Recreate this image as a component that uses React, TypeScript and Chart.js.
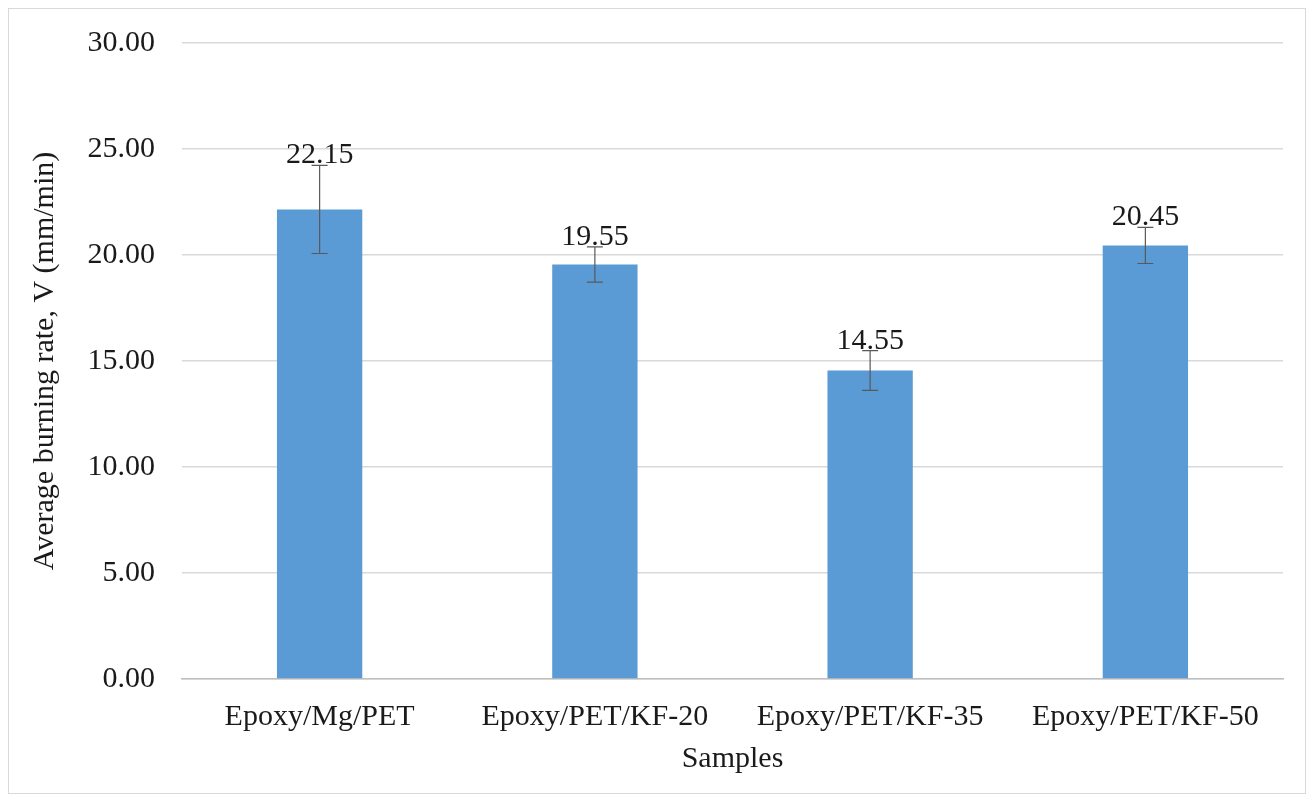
import React, { useEffect, useRef } from "react";
import { Chart, registerables } from "chart.js";

Chart.register(...registerables);

const categories = ["Epoxy/Mg/PET", "Epoxy/PET/KF-20", "Epoxy/PET/KF-35", "Epoxy/PET/KF-50"];
const values = [22.15, 19.55, 14.55, 20.45];
const errors = [2.08, 0.83, 0.94, 0.85];
const yTicks = [0, 5, 10, 15, 20, 25, 30];

const FONT = "'Liberation Serif', 'Times New Roman', serif";

const errorBarPlugin = {
  id: "errorBars",
  afterDatasetsDraw(chart: any) {
    const ctx = chart.ctx;
    const meta = chart.getDatasetMeta(0);
    const y = chart.scales.y;
    ctx.save();
    meta.data.forEach((bar: any, i: number) => {
      const x = bar.x;
      const top = y.getPixelForValue(values[i] + errors[i]);
      const bot = y.getPixelForValue(values[i] - errors[i]);
      ctx.strokeStyle = "#595959";
      ctx.lineWidth = 1.2;
      ctx.beginPath();
      ctx.moveTo(x, top);
      ctx.lineTo(x, bot);
      ctx.moveTo(x - 8, top);
      ctx.lineTo(x + 8, top);
      ctx.moveTo(x - 8, bot);
      ctx.lineTo(x + 8, bot);
      ctx.stroke();
      ctx.fillStyle = "#1a1a1a";
      ctx.font = `30px ${FONT}`;
      ctx.textAlign = "center";
      ctx.textBaseline = "alphabetic";
      ctx.fillText(values[i].toFixed(2), x, top - 2);
    });
    ctx.restore();
  },
};

export default function App() {
  const ref = useRef<HTMLCanvasElement>(null);
  useEffect(() => {
    if (!ref.current) return;
    const chart = new Chart(ref.current, {
      type: "bar",
      data: {
        labels: categories,
        datasets: [
          {
            data: values,
            backgroundColor: "#5b9bd5",
            categoryPercentage: 1,
            barPercentage: 0.31,
          },
        ],
      },
      plugins: [errorBarPlugin],
      options: {
        responsive: false,
        animation: false,
        layout: { padding: { left: 0, right: 22, top: 34, bottom: 0 } },
        plugins: { legend: { display: false }, tooltip: { enabled: false } },
        scales: {
          x: {
            grid: { display: false, drawTicks: false },
            border: { display: true, color: "#bfbfbf", width: 1.5 },
            ticks: { color: "#1a1a1a", font: { family: FONT, size: 30 }, padding: 20, maxRotation: 0 },
            title: {
              display: true,
              text: "Samples",
              color: "#1a1a1a",
              font: { family: FONT, size: 30 },
              padding: { top: 4, bottom: 16 },
            },
            afterFit: (s: any) => {
              s.height = 114;
              s.paddingLeft = 0;
              s.paddingRight = 0;
            },
          },
          y: {
            min: 0,
            max: 30,
            afterBuildTicks: (s: any) => {
              s.ticks = yTicks.map((v) => ({ value: v }));
            },
            grid: { color: "#d9d9d9", lineWidth: 1.5, drawTicks: false },
            border: { display: false },
            ticks: {
              color: "#1a1a1a",
              font: { family: FONT, size: 30 },
              padding: 27,
              callback: (v: any) => Number(v).toFixed(2),
            },
            title: {
              display: true,
              text: "Average burning rate, V (mm/min)",
              color: "#1a1a1a",
              font: { family: FONT, size: 30 },
              padding: { top: 18, bottom: 0 },
            },
            afterFit: (s: any) => {
              s.width = 173;
              s.paddingTop = 0;
              s.paddingBottom = 0;
            },
          },
        },
      },
    });
    return () => chart.destroy();
  }, []);
  return (
    <div style={{ width: 1296, height: 784, border: "1px solid #d9d9d9" }}>
      <canvas ref={ref} width={1296} height={784} style={{ display: "block" }} />
    </div>
  );
}
